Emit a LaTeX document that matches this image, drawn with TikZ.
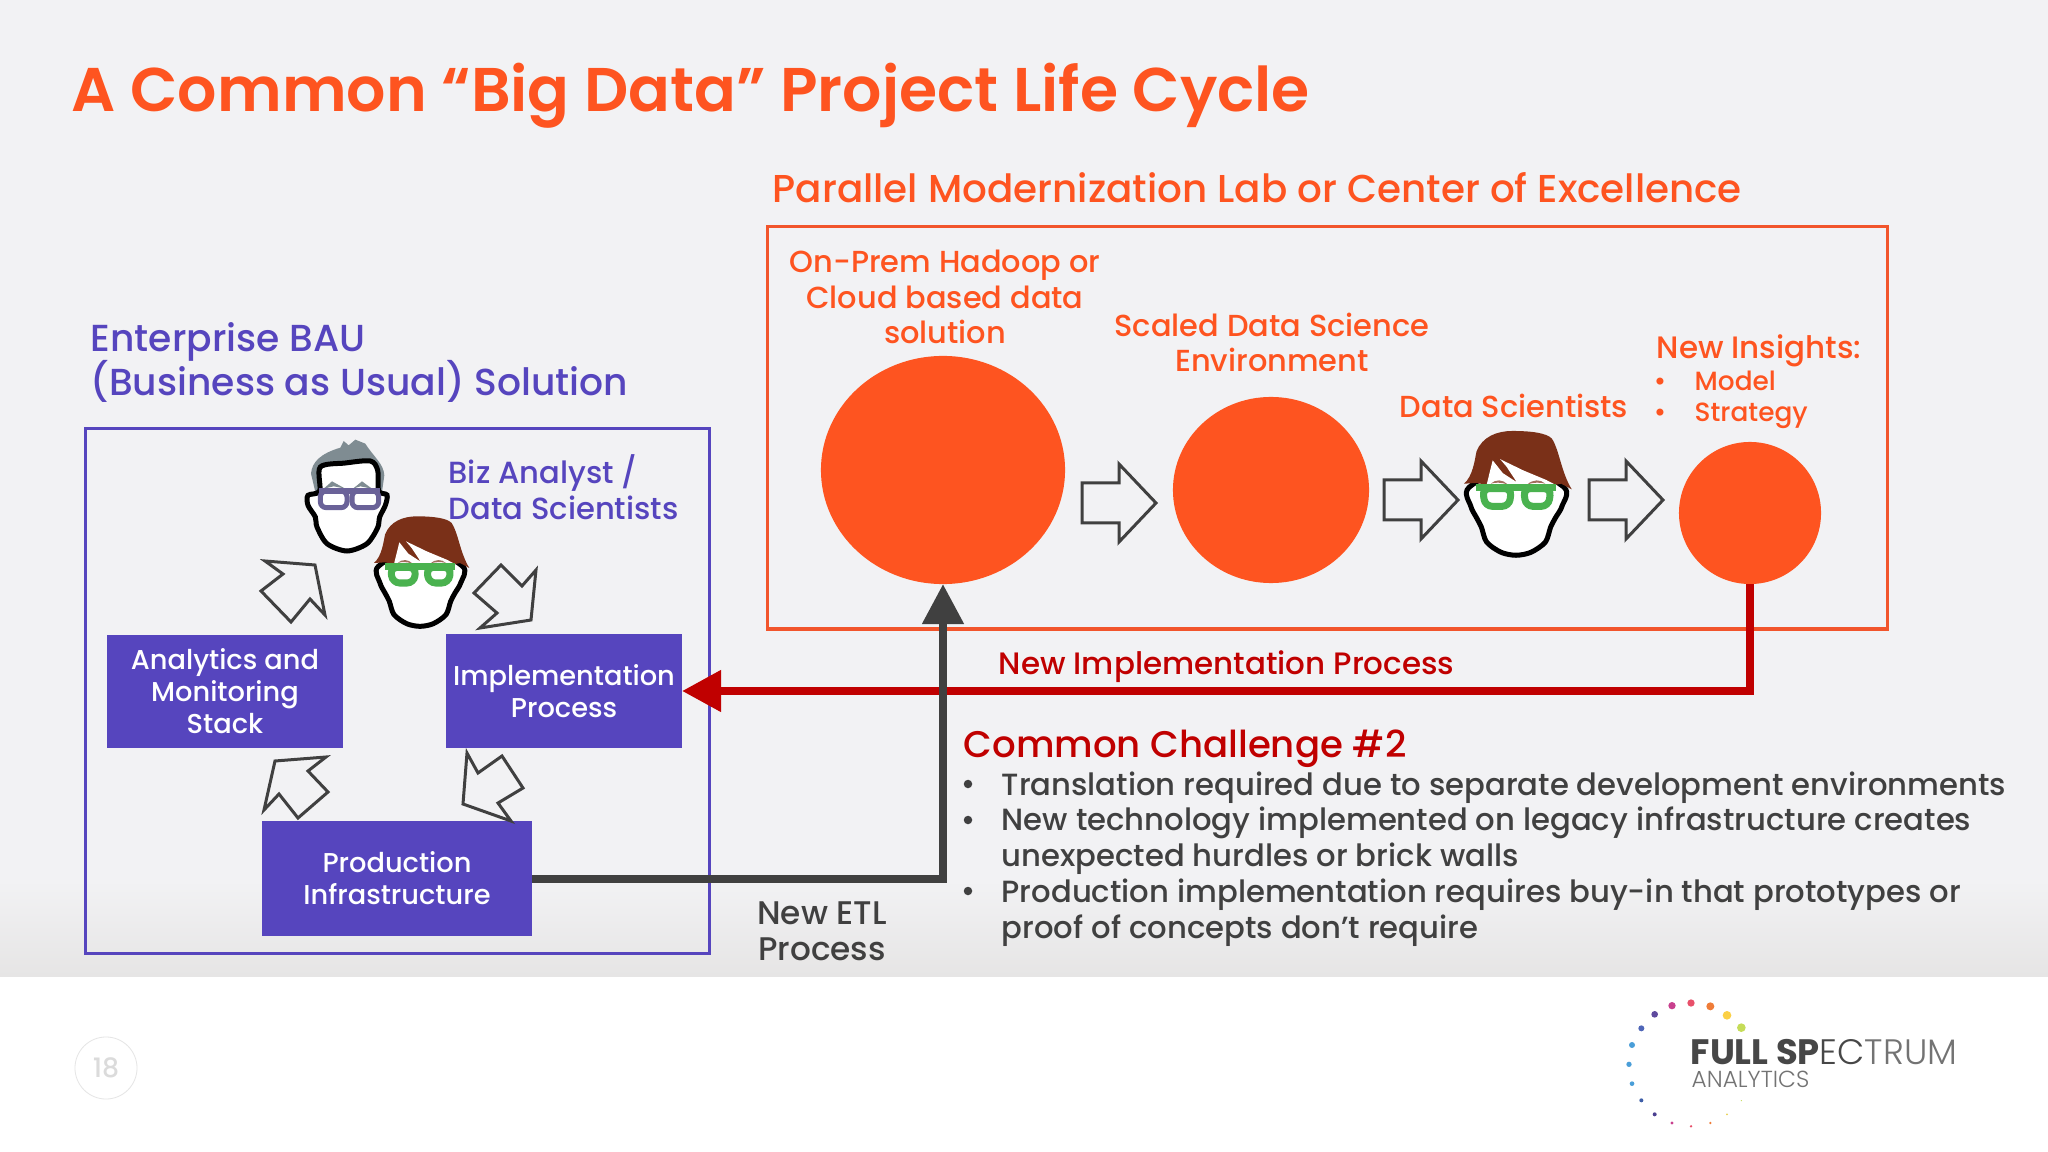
\documentclass[tikz,border=0pt]{standalone}
\usepackage{fontspec}
\usepackage{xcolor}
\setmainfont{Poppins Medium}[BoldFont={Poppins Bold}]
\newfontfamily\semifont{Poppins SemiBold}
\newfontfamily\lightfont{Poppins Light}
\usetikzlibrary{shapes.geometric,positioning,arrows.meta}

\definecolor{slidegray}{HTML}{F2F2F4}
\definecolor{slidelow}{HTML}{E6E5E5}
\definecolor{flame}{HTML}{FE5420}
\definecolor{flameline}{HTML}{F2552C}
\definecolor{violet}{HTML}{5645BE}
\definecolor{darkred}{HTML}{C00000}
\definecolor{slate}{HTML}{404040}
\definecolor{glassgreen}{HTML}{4AB24F}
\definecolor{glassgrey}{HTML}{6A6298}
\definecolor{hairbrown}{HTML}{7A3018}
\definecolor{hairgrey}{HTML}{7F8C92}

\tikzset{
    redtext/.style={text=flame, inner sep=0pt, font=\fontsize{8.65}{10.2}\selectfont},
    bluetext/.style={text=violet, inner sep=0pt, font=\fontsize{8.7}{10.4}\selectfont},
    bodytext/.style={text=slate, inner sep=0pt, font=\fontsize{8.72}{10.2}\selectfont},
    bluebox/.style={fill=violet, text=white, inner sep=0pt, outer sep=0pt, align=center,
        font=\fontsize{7.75}{9.1}\selectfont},
    blob/.style={ellipse, fill=flame, inner sep=0pt, outer sep=0pt},
    hollow/.style={draw=slate, line width=0.03cm},
    pics/headgreen/.style={code={
        \begin{scope}[scale=1/3,shift={(-450,-460)}]
            \draw[black, fill=white, line width=0.05cm] plot[smooth cycle] coordinates
                {(325,440) (330,490) (345,520) (358,545) (372,585) (410,612) (450,620) (490,612)
                 (528,585) (542,545) (555,520) (572,490) (578,440) (450,380)};
            \fill[hairbrown] (312,430) .. controls (335,410) and (340,370) .. (345,345)
                .. controls (360,305) and (400,290) .. (440,290)
                .. controls (490,290) and (530,295) .. (545,310)
                .. controls (565,340) and (570,400) .. (598,445) -- (570,430) -- (555,433) -- (372,433) -- (345,428) -- cycle;
            \fill[white] (372,433) -- (388,368) -- (415,402) -- (452,426) -- (425,385) -- (408,365)
                -- (470,395) -- (530,420) -- (555,433) -- cycle;
            \fill[hairbrown!70!white] (383,430) .. controls (395,418) and (415,418) .. (428,432) .. controls (410,426) and (395,426) .. (383,430);
            \fill[hairbrown!70!white] (480,432) .. controls (495,418) and (515,418) .. (528,430) .. controls (515,426) and (495,426) .. (480,432);
            \draw[glassgreen, line width=0.07cm, fill=white, rounded corners=0.07cm] (361,443) -- (438,443) -- (432,490) -- (368,490) -- cycle;
            \draw[glassgreen, line width=0.07cm, fill=white, rounded corners=0.07cm] (470,443) -- (543,443) -- (536,490) -- (476,490) -- cycle;
            \draw[glassgreen, line width=0.07cm] (345,441) -- (555,441);
        \end{scope}
    }},
    pics/headgrey/.style={code={
        \begin{scope}[scale=1/3,shift={(-230,-230)}]
            \fill[hairgrey] (135,215) -- (122,160) .. controls (125,125) and (150,100) .. (210,82)
                -- (220,62) -- (235,75) -- (255,58) -- (285,70) .. controls (310,110) and (340,130) .. (342,165) -- (335,215) -- cycle;
            \draw[black, fill=white, line width=0.05cm] plot[smooth cycle] coordinates
                {(150,140) (225,128) (300,122) (322,150) (325,212) (350,224) (345,255) (328,290) (322,322)
                 (290,370) (230,392) (170,370) (140,320) (135,290) (113,255) (113,225) (148,212)};
            \fill[hairgrey] (160,205) -- (185,183) -- (225,205) -- (190,198) -- cycle;
            \fill[hairgrey] (248,205) -- (275,183) -- (305,205) -- (270,198) -- cycle;
            \draw[glassgrey, line width=0.05cm, fill=white, rounded corners=0.06cm] (150,212) rectangle (230,262);
            \draw[glassgrey, line width=0.05cm, fill=white, rounded corners=0.06cm] (245,212) rectangle (325,262);
            \draw[glassgrey, line width=0.05cm] (146,212) -- (328,212);
        \end{scope}
    }},
}

\begin{document}
\begin{tikzpicture}[x=0.01cm,y=-0.01cm]
    \useasboundingbox (0,0) rectangle (2048,1152);
    \fill[white] (0,0) rectangle (2048,1152);
    \fill[slidegray] (0,0) rectangle (2048,880);
    \shade[top color=slidegray, bottom color=slidelow] (0,880) rectangle (2048,976);

    \node[anchor=base west, inner sep=0pt, text=flame, font=\semifont\fontsize{17.55}{22}\selectfont] (title) at (71,112)
        {A Common “Big Data” Project Life Cycle};

    % Modernization lab
    \node[anchor=base west, redtext, font=\fontsize{11.05}{13}\selectfont] (labtitle) at (772,203)
        {Parallel Modernization Lab or Center of Excellence};
    \draw[flameline, line width=0.03cm] (767,227) rectangle (1887,629);

    \node[redtext, align=center, anchor=base] (hadooptext) at (945,344)
        {On-Prem Hadoop or\\Cloud based data\\solution};
    \node[redtext, align=center, anchor=base] (envtext) at (1272,372)
        {Scaled Data Science\\Environment};
    \node[redtext, anchor=base] (scitext) at (1514,418) {Data Scientists};
    \node[redtext, anchor=base west, font=\fontsize{8.8}{10}\selectfont] (insighttext) at (1656,359) {New Insights:};
    \node[redtext, anchor=base west, font=\fontsize{7.5}{8}\selectfont] (modeltext) at (1694,391) {Model};
    \node[redtext, anchor=base west, font=\fontsize{7.5}{8}\selectfont] (strattext) at (1694,422) {Strategy};
    \node[redtext, anchor=base, font=\fontsize{7.6}{8}\selectfont] (modeldot) at (1660,391) {•};
    \node[redtext, anchor=base, font=\fontsize{7.6}{8}\selectfont] (stratdot) at (1660,422) {•};

    \node[blob, minimum width=2.44cm, minimum height=2.28cm] (hadoop) at (943,470) {};
    \node[blob, minimum width=1.96cm, minimum height=1.86cm] (scaled) at (1271,490) {};
    \node[blob, minimum width=1.42cm, minimum height=1.42cm] (insights) at (1750,513) {};

    \foreach \x/\y in {1082/503, 1384/500, 1589/500}
        \draw[hollow] (\x,\y-20) -- (\x+37,\y-20) -- (\x+37,\y-39) -- (\x+74,\y)
            -- (\x+37,\y+39) -- (\x+37,\y+20) -- (\x,\y+20) -- cycle;

    \pic[scale=1.13] (sciface) at (1516,495) {headgreen};

    % Enterprise BAU
    \node[bluetext, anchor=base west, align=left, font=\fontsize{10.7}{12.6}\selectfont] (bautext) at (90,396)
        {Enterprise BAU\\[-1.2pt](Business as Usual) Solution};
    \draw[violet, line width=0.03cm] (85,429) rectangle (709,953);

    \node[bluebox, minimum width=2.36cm, minimum height=1.13cm] (stack) at (225,691.5)
        {Analytics and\\Monitoring\\Stack};
    \node[bluebox, minimum width=2.36cm, minimum height=1.14cm] (impl) at (564,691)
        {Implementation\\Process};
    \node[bluebox, minimum width=2.70cm, minimum height=1.15cm] (prod) at (397,878.5)
        {Production\\Infrastructure};

    \node[bluetext, anchor=base west, align=left] (biztext) at (448,520)
        {Biz Analyst /\\Data Scientists};
    \pic (bizface) at (347,497) {headgrey};
    \pic (dataface) at (420,573) {headgreen};

    \draw[hollow] (315,565) -- (265,561) -- (283,574) -- (261,591) -- (291,622) -- (310,599) -- (325,615) -- cycle;
    \draw[hollow] (531,620) -- (536,570) -- (522,586) -- (501,565) -- (474,593) -- (497,613) -- (480,628) -- cycle;
    \draw[hollow] (275,761) -- (326,757) -- (308,771) -- (328,792) -- (298,818) -- (279,794) -- (264,810) -- cycle;
    \draw[hollow] (463,804) -- (467,753) -- (478,773) -- (502,756) -- (523,788) -- (498,803) -- (511,821) -- cycle;

    % Connectors
    \draw[darkred, line width=0.08cm, -{Triangle[length=0.39cm,width=0.40cm]}] (insights.south) |- (impl.east);
    \draw[slate, line width=0.08cm, -{Triangle[length=0.40cm,width=0.40cm]}] (prod.east) -| (hadoop.south);
    \node[anchor=base west, inner sep=0pt, text=darkred, font=\fontsize{8.8}{10}\selectfont] (impltext) at (998,675)
        {New Implementation Process};
    \node[bodytext, anchor=base, align=center, font=\fontsize{9.3}{10.2}\selectfont] (etltext) at (822,960) {New ETL\\Process};

    % Challenge
    \node[anchor=base west, inner sep=0pt, text=darkred, font=\fontsize{10.55}{13}\selectfont] (challenge) at (963,757)
        {Common Challenge \#2};
    \foreach \n/\y in {a/784, b/820, c/891}
        \node[circle, fill=slate, inner sep=0pt, minimum size=0.085cm] (dot\n) at (968,\y) {};
    \node[bodytext, anchor=base west] (lineone) at (1001,795)
        {Translation required due to separate development environments};
    \node[bodytext, anchor=base west, align=left] (linetwo) at (1001,866)
        {New technology implemented on legacy infrastructure creates\\unexpected hurdles or brick walls};
    \node[bodytext, anchor=base west, align=left] (linethree) at (1001,938)
        {Production implementation requires buy-in that prototypes or\\proof of concepts don’t require};

    % Footer
    \node[circle, draw=black!10, line width=0.008cm, minimum size=0.62cm, inner sep=0pt, text=black!14,
        font=\fontsize{7.6}{8}\selectfont] (pagenum) at (106,1068) {18};

    \begin{scope}[shift={(1600,980)},scale=1/3]
        \foreach \x/\y/\r/\c in {424/143/13/C5DC58, 381/106/13/FBD045, 331/79/12/EF7C38, 273/69/11/E8506A,
            216/77/11/C8408E, 164/103/10/5F4A9E, 124/145/9/4F66B8, 96/195/9/4A9ED8, 87/253/8/4A9ED8,
            96/311/7/4A9ED8, 124/361/6/3F5FA8, 164/403/6/4A3F90, 216/429/5/C8408E, 273/439/4/E8506A,
            331/429/4/EF7C38, 381/403/3/E8D050, 424/362/2/C5DC58} {
            \definecolor{dotcolor}{HTML}{\c}
            \fill[dotcolor] (\x,\y) circle[radius=\r];
        }
    \end{scope}
    \node[anchor=base west, inner sep=0pt, text=black!72, font=\fontsize{10.05}{10}\selectfont] (logoname) at (1690,1064)
        {\textbf{FULL SP}{\lightfont\textcolor{black!72}{EC}\textcolor{black!55}{TRUM}}};
    \node[anchor=base west, inner sep=0pt, text=black!55, font=\lightfont\fontsize{6.6}{7}\selectfont] (logosub) at (1691,1087)
        {ANALYTICS};
\end{tikzpicture}
\end{document}
